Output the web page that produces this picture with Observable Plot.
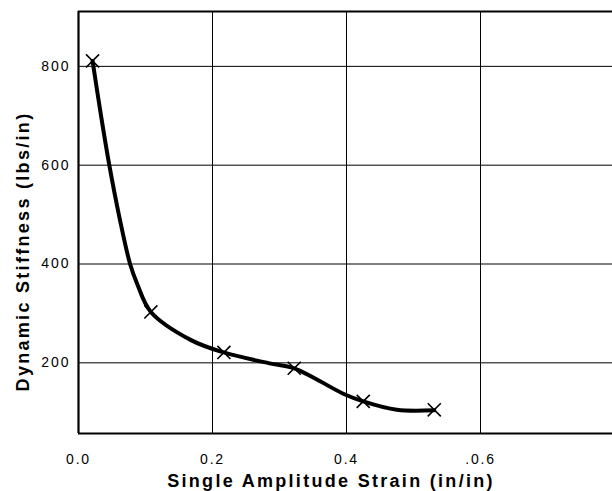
<!DOCTYPE html>
<html>
<head>
<meta charset="utf-8">
<script src="https://cdn.jsdelivr.net/npm/d3@7"></script>
<script src="https://cdn.jsdelivr.net/npm/@observablehq/plot@0.6"></script>
<style>
  html, body { margin: 0; padding: 0; background: #fff; overflow: hidden; }
  #chart svg { display: block; }
  #chart g[aria-label="x-axis tick label"] text { letter-spacing: 1.8px; }
  #chart g[aria-label="y-axis tick label"] text { letter-spacing: 2px; }
  #chart g[aria-label="text"] text { letter-spacing: 2.3px; }
</style>
</head>
<body>
<div id="chart"></div>
<script>
// Measured points (x markers)
const strain = [0.021, 0.108, 0.217, 0.322, 0.425, 0.531];
const stiffness = [811, 303, 221, 189, 122, 105];

// Hand-drawn fitted curve
const curveStrain    = [0.021, 0.034, 0.046, 0.061, 0.077, 0.0875, 0.108, 0.168, 0.217, 0.285, 0.322, 0.396, 0.425, 0.475, 0.531];
const curveStiffness = [811,   697,   600,   495,   400,   360,    303,   246,   221,   199,   189,   137,   122,   105,   104];

// Axis ticks and labels
const xTicks = [0, 0.2, 0.4, 0.6];
const xTickLabels = ["0.0", "0.2", "0.4", ".0.6"];
const yTicks = [200, 400, 600, 800];
const yDomain = [57, 911];
const xLabel = "Single Amplitude Strain (in/in)";
const yLabel = "Dynamic Stiffness (lbs/in)";

const points = strain.map((x, i) => ({x, y: stiffness[i]}));
const curve = curveStrain.map((x, i) => ({x, y: curveStiffness[i]}));

const font = "'Liberation Sans', Arial, Helvetica, sans-serif";

const chart = Plot.plot({
  width: 612,
  height: 491,
  marginLeft: 78,
  marginRight: 0,
  marginTop: 11,
  marginBottom: 58,
  style: {fontFamily: font, fontSize: "14px", color: "#000", background: "#fff", overflow: "hidden"},
  x: {domain: [0, 0.8], range: [78, 614], ticks: xTicks},
  y: {domain: yDomain, ticks: yTicks},
  marks: [
    Plot.gridX(xTicks, {stroke: "#000", strokeOpacity: 1, strokeWidth: 1}),
    Plot.gridY(yTicks, {stroke: "#000", strokeOpacity: 1, strokeWidth: 1}),
    Plot.axisX(xTicks, {tickSize: 0, tickPadding: 21, tickFormat: (d, i) => xTickLabels[i], fontSize: 14, label: null}),
    Plot.axisY(yTicks, {tickSize: 0, tickPadding: 8, fontSize: 14, label: null}),
    Plot.ruleX([0], {stroke: "#000", strokeWidth: 2.2}),
    Plot.ruleY(yDomain, {stroke: "#000", strokeWidth: 2.2}),
    Plot.line(curve, {x: "x", y: "y", curve: "catmull-rom", stroke: "#000", strokeWidth: 4, strokeLinecap: "round", strokeLinejoin: "round"}),
    Plot.dot(points, {x: "x", y: "y", symbol: "times", r: 6, stroke: "#000", strokeWidth: 1.6}),
    Plot.text([xLabel], {frameAnchor: "bottom", text: d => d, dy: 47.5, dx: -14.5, fontSize: 18, fontWeight: "bold", textAnchor: "middle", lineAnchor: "middle"}),
    Plot.text([yLabel], {frameAnchor: "left", text: d => d, dx: -55.5, dy: 29, rotate: -90, fontSize: 18, fontWeight: "bold", textAnchor: "middle", lineAnchor: "middle"})
  ]
});

document.getElementById("chart").appendChild(chart);
</script>
</body>
</html>
